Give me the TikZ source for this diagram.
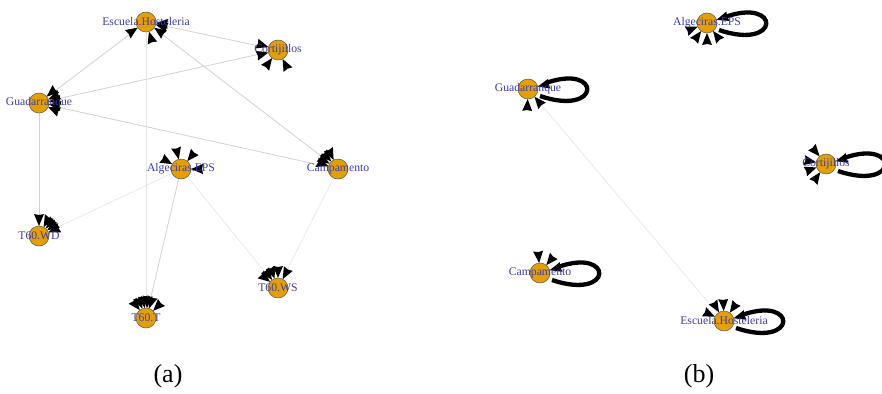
\documentclass[tikz,border=0pt]{standalone}
\usepackage{fontspec}
\setmainfont{Liberation Serif}
\usetikzlibrary{calc}
\definecolor{nodeor}{HTML}{E69F00}
\definecolor{lblue}{RGB}{60,60,170}
\definecolor{edgegray}{RGB}{210,210,210}
\definecolor{edgelight}{RGB}{228,228,228}
\tikzset{
  vert/.style={circle, fill=nodeor, draw=black!65, line width=0.5pt, minimum size=20pt, inner sep=0pt},
  vlabel/.style={text=lblue, font=\fontsize{11.7}{12}\selectfont, inner sep=0pt},
  edgeline/.style={draw=edgegray, line width=0.8pt},
  edgefaint/.style={draw=edgelight, line width=0.6pt},
  loopline/.style={draw=black, line width=4.3pt},
  captext/.style={font=\fontsize{26}{28}\selectfont, inner sep=0pt}
}
\newcommand{\ah}[2]{\fill[black] ($(#1)+(#2:10pt)$) -- ($(#1)+(#2:22pt)+(#2+90:5pt)$) -- ($(#1)+(#2:21pt)$) -- ($(#1)+(#2:22pt)+(#2-90:5pt)$) -- cycle;}
\newcommand{\selfloop}[1]{\draw[loopline] ($(#1)+(12,7)$) .. controls ($(#1)+(74,28)$) and ($(#1)+(74,-26)$) .. ($(#1)+(18,-6)$);}
\begin{document}
\begin{tikzpicture}[x=1pt,y=-1pt]
\useasboundingbox (0,0) rectangle (882,393);
% ---------- panel (a) coordinates
\coordinate (aE) at (146,22);
\coordinate (aC) at (278,50);
\coordinate (aG) at (39,103);
\coordinate (aA) at (181,169);
\coordinate (aP) at (338,169);
\coordinate (aW) at (39,236);
\coordinate (aT) at (146,318);
\coordinate (aS) at (278,288);
% edges (a)
\draw[edgeline] (aG) -- (aE);
\draw[edgeline] (aE) -- (aC);
\draw[edgeline] (aC) -- (aG);
\draw[edgeline] (aE) -- (aP);
\draw[edgeline] (aG) -- (aP);
\draw[edgefaint] (aE) -- (aT);
\draw[edgeline] (aG) -- (aW);
\draw[edgefaint] (aA) -- (aW);
\draw[edgeline] (aA) -- (aT);
\draw[edgefaint] (aA) -- (aS);
\draw[edgefaint] (aP) -- (aS);
% arrowheads (a)
\foreach \a in {214,287,325,345,355} {\ah{aE}{\a}}
\foreach \a in {163,195,234,297} {\ah{aC}{\a}}
\foreach \a in {40,22,8,-8,-24} {\ah{aG}{\a}}
\foreach \a in {151,103,51,0} {\ah{aA}{\a}}
\foreach \a in {116,132,148,162} {\ah{aP}{\a}}
\foreach \a in {90,62,48,35,22} {\ah{aW}{\a}}
\foreach \a in {128,112,98,85,72,45} {\ah{aT}{\a}}
\foreach \a in {142,126,110,90,62} {\ah{aS}{\a}}
% nodes (a)
\foreach \n in {aE,aC,aG,aA,aP,aW,aT,aS} {\node[vert] (\n n) at (\n) {};}
\node[vlabel] (aEl) at (aE) {Escuela.Hosteleria};
\node[vlabel] (aCl) at (aC) {Cortijillos};
\node[vlabel] (aGl) at (aG) {Guadarranque};
\node[vlabel] (aAl) at (aA) {Algeciras.EPS};
\node[vlabel] (aPl) at (aP) {Campamento};
\node[vlabel] (aWl) at (aW) {T60.WD};
\node[vlabel] (aTl) at (aT) {T60.T};
\node[vlabel] (aSl) at (aS) {T60.WS};
% ---------- panel (b)
\coordinate (bA) at (707,23);
\coordinate (bG) at (528,89);
\coordinate (bC) at (826,164);
\coordinate (bP) at (540,273);
\coordinate (bE) at (724,321);
\draw[edgefaint] (bG) -- (bE);
\foreach \n in {bA,bG,bC,bP,bE} {\selfloop{\n}}
\foreach \a in {202,234,270,307,18} {\ah{bA}{\a}}
\foreach \a in {268,310,14} {\ah{bG}{\a}}
\foreach \a in {130,170,200,235,16} {\ah{bC}{\a}}
\foreach \a in {95,51,16} {\ah{bP}{\a}}
\foreach \a in {155,120,92,55,16} {\ah{bE}{\a}}
\foreach \n in {bA,bG,bC,bP,bE} {\node[vert] (\n n) at (\n) {};}
\node[vlabel] (bAl) at (bA) {Algeciras.EPS};
\node[vlabel] (bGl) at (bG) {Guadarranque};
\node[vlabel] (bCl) at (bC) {Cortijillos};
\node[vlabel] (bPl) at (bP) {Campamento};
\node[vlabel] (bEl) at (bE) {Escuela.Hosteleria};
% captions
\node[captext] (capa) at (168,376) {(a)};
\node[captext] (capb) at (699,376) {(b)};
\end{tikzpicture}
\end{document}
